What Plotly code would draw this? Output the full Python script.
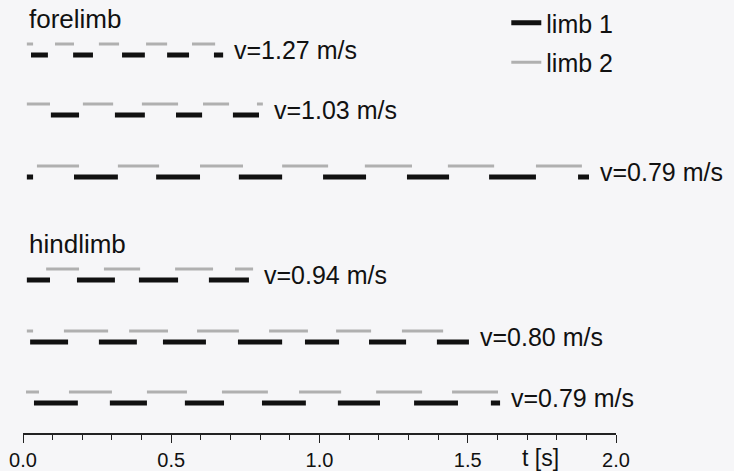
import plotly.graph_objects as go

# ---------------- data (times in seconds) ----------------
SPEED_LABELS = ["v=1.27 m/s", "v=1.03 m/s", "v=0.79 m/s",
                "v=0.94 m/s", "v=0.80 m/s", "v=0.79 m/s"]

# forelimb, v=1.27
F127_LIMB1 = [(0.027, 0.084), (0.169, 0.236), (0.334, 0.411), (0.486, 0.560), (0.644, 0.675)]
F127_LIMB2 = [(0.013, 0.034), (0.108, 0.172), (0.256, 0.324), (0.415, 0.486), (0.570, 0.648)]
# forelimb, v=1.03
F103_LIMB1 = [(0.094, 0.189), (0.310, 0.411), (0.516, 0.604), (0.708, 0.796)]
F103_LIMB2 = [(0.013, 0.091), (0.202, 0.304), (0.401, 0.523), (0.607, 0.695), (0.789, 0.809)]
# forelimb, v=0.79
F079_LIMB1 = [(0.013, 0.034), (0.172, 0.320), (0.449, 0.597), (0.728, 0.874), (1.012, 1.157),
              (1.295, 1.437), (1.572, 1.730), (1.872, 1.909)]
F079_LIMB2 = [(0.047, 0.189), (0.320, 0.459), (0.597, 0.742), (0.874, 1.029), (1.153, 1.312),
              (1.433, 1.589), (1.730, 1.885)]
# hindlimb, v=0.94
H094_LIMB1 = [(0.013, 0.091), (0.182, 0.310), (0.391, 0.523), (0.627, 0.762)]
H094_LIMB2 = [(0.078, 0.189), (0.273, 0.395), (0.513, 0.641), (0.715, 0.776)]
# hindlimb, v=0.80
H080_LIMB1 = [(0.024, 0.152), (0.256, 0.384), (0.472, 0.617), (0.725, 0.874), (0.951, 1.066),
              (1.167, 1.292), (1.396, 1.504)]
H080_LIMB2 = [(0.013, 0.034), (0.138, 0.287), (0.358, 0.489), (0.587, 0.728), (0.830, 0.961),
              (1.056, 1.174), (1.278, 1.417)]
# hindlimb, v=0.79
H079_LIMB1 = [(0.037, 0.185), (0.293, 0.418), (0.546, 0.678), (0.806, 0.954), (1.062, 1.204),
              (1.319, 1.467), (1.578, 1.609)]
H079_LIMB2 = [(0.010, 0.054), (0.155, 0.300), (0.418, 0.553), (0.671, 0.826), (0.931, 1.073),
              (1.191, 1.346), (1.447, 1.602)]

ROWS_LIMB1 = [F127_LIMB1, F103_LIMB1, F079_LIMB1, H094_LIMB1, H080_LIMB1, H079_LIMB1]
ROWS_LIMB2 = [F127_LIMB2, F103_LIMB2, F079_LIMB2, H094_LIMB2, H080_LIMB2, H079_LIMB2]

TICK_VALUES = [0.0, 0.5, 1.0, 1.5, 2.0]
TICK_LABELS = ["0.0", "0.5", "1.0", "1.5", "2.0"]

# ---------------- layout constants ----------------
W, H = 734, 471
ML, MR, MT, MB = 23, 118, 0, 38
ROW_LEVEL = [55, 115, 177, 280, 342, 403]   # vertical level of limb 1 bars (y axis runs top-down)
LIMB2_OFFSET = -11
FONT = "Arial, Liberation Sans, sans-serif"
BLACK = "#111111"
GRAY = "#b0b0b0"


def segs(pairs, level):
    xs, ys = [], []
    for s, e in pairs:
        xs += [s, e, None]
        ys += [level, level, None]
    return xs, ys


fig = go.Figure()
for i, (l1, l2) in enumerate(zip(ROWS_LIMB1, ROWS_LIMB2)):
    x2, y2 = segs(l2, ROW_LEVEL[i] + LIMB2_OFFSET)
    fig.add_trace(go.Scatter(x=x2, y=y2, mode="lines", line=dict(color=GRAY, width=3),
                             name="limb 2", legendgroup="l2", showlegend=(i == 0),
                             legendrank=2, hoverinfo="skip"))
    x1, y1 = segs(l1, ROW_LEVEL[i])
    fig.add_trace(go.Scatter(x=x1, y=y1, mode="lines", line=dict(color=BLACK, width=5),
                             name="limb 1", legendgroup="l1", showlegend=(i == 0),
                             legendrank=1, hoverinfo="skip"))
    end = max(e for _, e in l1 + l2)
    fig.add_annotation(x=end + 0.03, y=ROW_LEVEL[i] + LIMB2_OFFSET / 2, text=SPEED_LABELS[i],
                       showarrow=False, xanchor="left", yanchor="middle",
                       font=dict(family=FONT, size=25, color=BLACK))

fig.add_annotation(x=0.012, y=19, text="forelimb", showarrow=False, xanchor="left",
                   yanchor="middle", font=dict(family=FONT, size=26, color=BLACK))
fig.add_annotation(x=0.012, y=244, text="hindlimb", showarrow=False, xanchor="left",
                   yanchor="middle", font=dict(family=FONT, size=26, color=BLACK))
fig.add_annotation(x=1.745, xref="x", y=-0.058, yref="paper", text="t [s]", showarrow=False,
                   xanchor="center", yanchor="middle", font=dict(family=FONT, size=23, color=BLACK))

fig.update_layout(
    width=W, height=H,
    margin=dict(l=ML, r=MR, t=MT, b=MB, autoexpand=False),
    paper_bgcolor="#f6f6f8", plot_bgcolor="#f6f6f8",
    showlegend=True,
    legend=dict(x=0.815, y=1.0, xanchor="left", yanchor="top", bgcolor="rgba(0,0,0,0)",
                font=dict(family=FONT, size=25, color=BLACK), itemwidth=30,
                tracegroupgap=4),
    xaxis=dict(range=[0, 2.0], showgrid=False, zeroline=False, showline=True, automargin=False,
               linecolor="#222222", linewidth=1.5, ticks="outside", ticklen=8,
               tickwidth=1.3, tickcolor="#222222", tickvals=TICK_VALUES, ticktext=TICK_LABELS,
               tickfont=dict(family=FONT, size=20, color=BLACK),
               minor=dict(dtick=0.1, tick0=0, ticks="outside", ticklen=5, tickwidth=1.1,
                          tickcolor="#222222", showgrid=False)),
    yaxis=dict(range=[433, 0], visible=False, showgrid=False, zeroline=False, fixedrange=True),
)

fig.write_html("out.html", config={"displayModeBar": False},
               post_script="document.body.style.margin='0';document.body.style.overflow='hidden';")
